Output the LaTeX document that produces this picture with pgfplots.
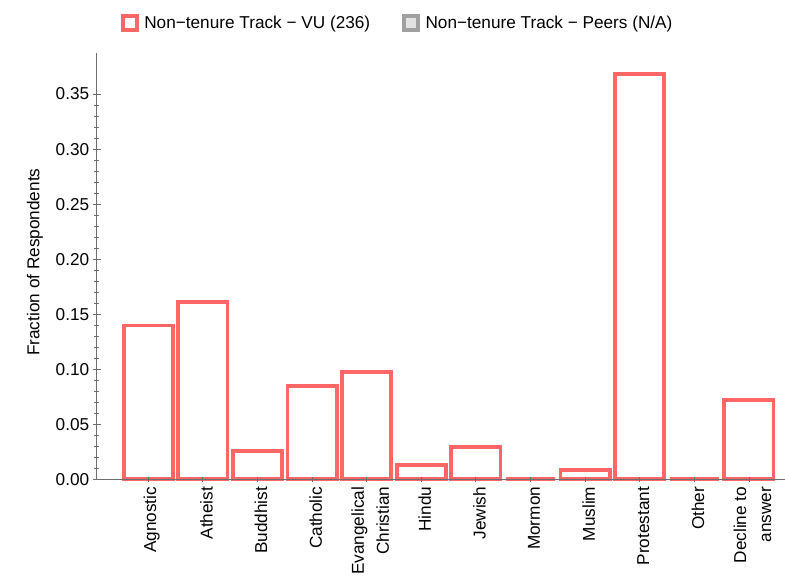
\documentclass[border=0pt]{standalone}
\usepackage{fontspec}
\setmainfont{Liberation Sans}
\usepackage{pgfplots}
\pgfplotsset{compat=1.18}
\definecolor{barred}{RGB}{255,102,102}
\definecolor{axgray}{RGB}{110,110,110}
\definecolor{peergray}{RGB}{160,160,160}
\definecolor{peerfill}{RGB}{226,226,226}
\newcommand{\chfont}{\fontsize{17.2}{20.6}\selectfont}
\begin{document}
\begin{tikzpicture}
\begin{axis}[
  at={(0pt,0pt)}, anchor=south west,
  scale only axis,
  width=688.3pt, height=426.6pt,
  xmin=-0.945, xmax=11.66,
  ymin=0, ymax=0.3876,
  clip=false,
  axis on top,
  axis x line=bottom, axis y line=left,
  axis line style={-, draw=axgray, line width=1pt},
  tick style={draw=axgray, line width=0.9pt},
  major tick length=8pt, minor tick length=5pt,
  xtick style={/pgfplots/major tick length=4.7pt},
  xtick={0,1,2,3,4,5,6,7,8,9,10,11},
  xticklabels={Agnostic, Atheist, Buddhist, Catholic, {Evangelical\\Christian}, Hindu, Jewish, Mormon, Muslim, Protestant, Other, {Decline to\\answer}},
  xticklabel style={rotate=90, anchor=east, align=right, font=\fontsize{17.2}{25}\selectfont, yshift=-3.5pt},
  ytick={0,0.05,0.10,0.15,0.20,0.25,0.30,0.35},
  minor y tick num=4,
  yticklabel style={/pgf/number format/fixed, /pgf/number format/fixed zerofill, /pgf/number format/precision=2, /pgf/number format/assume math mode=true, font=\chfont},
  ylabel={Fraction of Respondents},
  ylabel style={at={(axis description cs:-0.0896,0.509)}, anchor=center, font=\chfont},
  legend columns=2,
  legend cell align=left,
  legend style={at={(axis description cs:0.035,1.070)}, anchor=west, draw=none, fill=none, inner sep=0pt, font=\chfont,
    /tikz/every even column/.append style={column sep=30pt},
    /tikz/every odd column/.append style={column sep=3.5pt}},
  legend image code/.code={\draw[#1] (0pt,-7pt) rectangle (14pt,7pt);},
]
\addplot[ybar, bar width=0.90, draw=barred, fill=white, line width=3.8pt]
  coordinates {(0,0.1398) (1,0.1610) (2,0.0254) (3,0.0847) (4,0.0975) (5,0.0127) (6,0.0297) (7,0) (8,0.0085) (9,0.3686) (10,0) (11,0.0720)};
\addlegendentry{Non−tenure Track − VU (236)}
\addlegendimage{draw=peergray, fill=peerfill, line width=3.8pt}
\addlegendentry{Non−tenure Track − Peers (N/A)}
\end{axis}
\pgfresetboundingbox
\path[use as bounding box] (-96.7pt,-106.7pt) rectangle (688.3pt,479.3pt);
\end{tikzpicture}
\end{document}
